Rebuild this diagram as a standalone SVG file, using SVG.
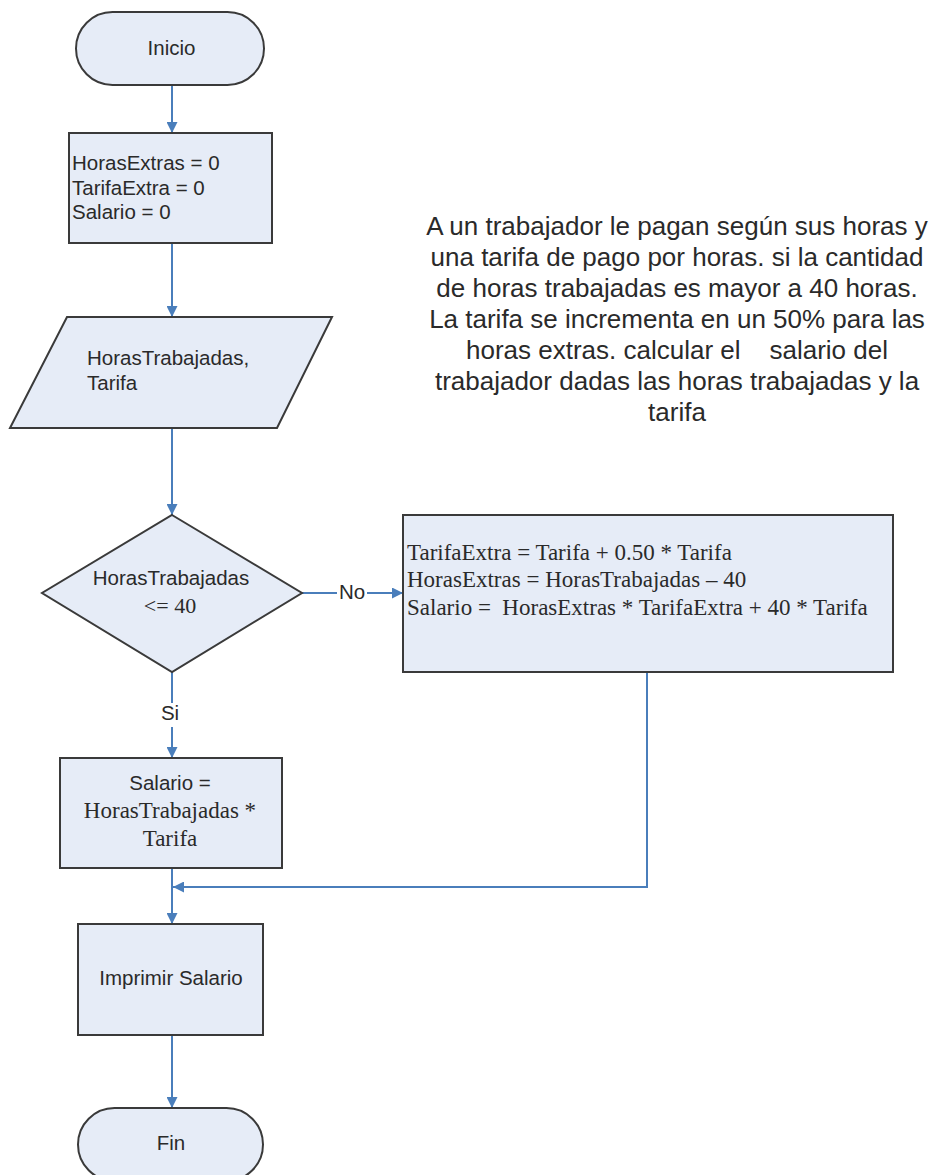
<svg xmlns="http://www.w3.org/2000/svg" width="938" height="1175" viewBox="0 0 938 1175">
<style>
.shape{fill:#e6ecf7;stroke:#3a3a3a;stroke-width:2}
.t{font-family:"Liberation Sans",Arial,sans-serif;font-size:20.5px;fill:#2a2a2a}
.s{font-family:"Liberation Serif","Times New Roman",serif;font-size:23px;fill:#2a2a2a}
.c{text-anchor:middle}
.desc{font-family:"Liberation Sans",Arial,sans-serif;font-size:26px;fill:#2a2a2a;text-anchor:middle}
.conn{fill:none;stroke:#4a7ebb;stroke-width:2}
</style>
<defs>
<marker id="arr" viewBox="0 0 10 10" refX="10" refY="5" markerWidth="12" markerHeight="11" markerUnits="userSpaceOnUse" orient="auto">
<path d="M0,0 L10,5 L0,10 z" fill="#4a7ebb"/>
</marker>
</defs>
<rect width="938" height="1175" fill="#ffffff"/>

<g id="connectors">
<line class="conn" x1="172" y1="85" x2="172" y2="133" marker-end="url(#arr)"/>
<line class="conn" x1="172" y1="243" x2="172" y2="317" marker-end="url(#arr)"/>
<line class="conn" x1="172" y1="428" x2="172" y2="515" marker-end="url(#arr)"/>
<line class="conn" x1="302" y1="593" x2="403" y2="593" marker-end="url(#arr)"/>
<rect x="337" y="580" width="30" height="24" fill="#ffffff"/>
<text class="t c" x="352" y="599">No</text>
<line class="conn" x1="172" y1="672" x2="172" y2="758" marker-end="url(#arr)"/>
<rect x="158" y="703" width="26" height="24" fill="#ffffff"/>
<text class="t c" x="170" y="720">Si</text>
<polyline class="conn" points="647,672 647,887 173,887" marker-end="url(#arr)"/>
<line class="conn" x1="172" y1="868" x2="172" y2="924" marker-end="url(#arr)"/>
<line class="conn" x1="172" y1="1035" x2="172" y2="1108" marker-end="url(#arr)"/>
</g>

<g id="inicio">
<rect class="shape" x="76" y="12" width="188" height="73" rx="36.5" ry="36.5"/>
<text class="t c" x="171.5" y="55">Inicio</text>
</g>

<g id="init">
<rect class="shape" x="69" y="133" width="203" height="110"/>
<text class="t" x="72" y="170">HorasExtras = 0</text>
<text class="t" x="72" y="194.5">TarifaExtra = 0</text>
<text class="t" x="72" y="219">Salario = 0</text>
</g>

<g id="entrada">
<polygon class="shape" points="67,317 332,317 277,428 10,428"/>
<text class="t" x="87" y="365">HorasTrabajadas,</text>
<text class="t" x="87" y="390">Tarifa</text>
</g>

<g id="decision">
<polygon class="shape" points="172,515 302,593 172,672 42,593"/>
<text class="t c" x="171" y="585">HorasTrabajadas</text>
<text class="s c" x="170" y="613" style="font-size:22px">&lt;= 40</text>
</g>

<g id="calculo-extra">
<rect class="shape" x="403" y="515" width="490" height="157"/>
<text class="s" x="407" y="560">TarifaExtra = Tarifa + 0.50 * Tarifa</text>
<text class="s" x="407" y="587">HorasExtras = HorasTrabajadas – 40</text>
<text class="s" x="407" y="615" xml:space="preserve">Salario =  HorasExtras * TarifaExtra + 40 * Tarifa</text>
</g>

<g id="calculo-normal">
<rect class="shape" x="60" y="758" width="222" height="110"/>
<text class="t c" x="170" y="790">Salario =</text>
<text class="s c" x="170" y="818">HorasTrabajadas *</text>
<text class="s c" x="170" y="846">Tarifa</text>
</g>

<g id="imprimir">
<rect class="shape" x="78" y="924" width="185" height="111"/>
<text class="t c" x="171" y="985">Imprimir Salario</text>
</g>

<g id="fin">
<rect class="shape" x="78" y="1108" width="185" height="73" rx="36.5" ry="36.5"/>
<text class="t c" x="171" y="1150">Fin</text>
</g>

<g id="descripcion">
<text class="desc" x="677" y="235">A un trabajador le pagan según sus horas y</text>
<text class="desc" x="677" y="266">una tarifa de pago por horas. si la cantidad</text>
<text class="desc" x="677" y="297">de horas trabajadas es mayor a 40 horas.</text>
<text class="desc" x="677" y="328">La tarifa se incrementa en un 50% para las</text>
<text class="desc" x="677" y="359" xml:space="preserve">horas extras. calcular el    salario del</text>
<text class="desc" x="677" y="390">trabajador dadas las horas trabajadas y la</text>
<text class="desc" x="677" y="421">tarifa</text>
</g>
</svg>
